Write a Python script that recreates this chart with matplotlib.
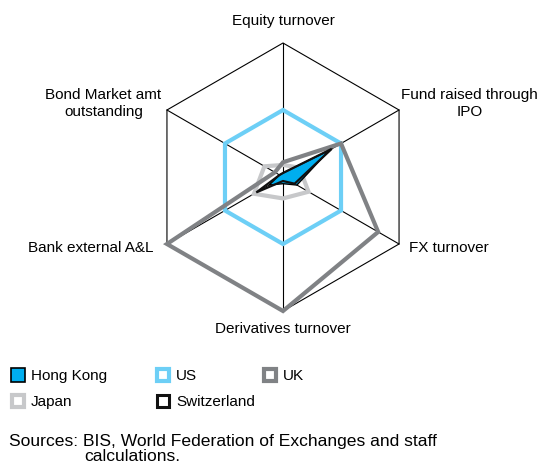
import numpy as np
import matplotlib.pyplot as plt
from matplotlib.patches import Polygon, Rectangle

plt.rcParams['font.family'] = ['Liberation Sans', 'DejaVu Sans']

# axes, clockwise from the top
axes_labels = ["Equity turnover", "Fund raised through\nIPO", "FX turnover",
               "Derivatives turnover", "Bank external A&L", "Bond Market amt\noutstanding"]

# index values (1.0 = outer ring)
hong_kong = [0.03, 0.40, 0.12, 0.05, 0.12, 0.03]
us = [0.50, 0.50, 0.50, 0.50, 0.50, 0.50]
uk = [0.11, 0.50, 0.82, 1.00, 1.00, 0.07]
japan = [0.09, 0.14, 0.22, 0.16, 0.25, 0.16]
switzerland = [0.03, 0.42, 0.10, 0.03, 0.23, 0.03]

source_lines = ["Sources: BIS, World Federation of Exchanges and staff", "calculations."]

c_hk = "#00aeef"
c_us = "#6dcff6"
c_uk = "#808285"
c_jp = "#c7c8ca"
c_ch = "#111111"

angles = np.arange(len(axes_labels)) * 2 * np.pi / len(axes_labels)


def to_xy(vals):
    vals = np.asarray(vals, dtype=float)
    return np.column_stack([vals * np.sin(angles), vals * np.cos(angles)])


def px(x, y):
    # pixel position of the reference -> data units (radius 1 = 134 px)
    return (x - 283) / 134, (177 - y) / 134


fig = plt.figure(figsize=(5.38, 4.65), dpi=100)
ax = fig.add_axes([0, 0, 1, 1])
ax.set_xlim(-283 / 134, (538 - 283) / 134)
ax.set_ylim((177 - 465) / 134, 177 / 134)
ax.axis('off')

# frame: outer hexagon and spokes
outer = to_xy(np.ones(6))
ax.add_patch(Polygon(outer, closed=True, fill=False, ec="black", lw=0.8, zorder=1))
for x, y in outer:
    ax.plot([0, x], [0, y], color="black", lw=0.8, zorder=1)

ax.add_patch(Polygon(to_xy(us), closed=True, fill=False, ec=c_us, lw=3, joinstyle='miter', zorder=2))
ax.add_patch(Polygon(to_xy(japan), closed=True, fill=False, ec=c_jp, lw=3, joinstyle='miter', zorder=3))
ax.add_patch(Polygon(to_xy(uk), closed=True, fill=False, ec=c_uk, lw=3, joinstyle='miter', zorder=4))
ax.add_patch(Polygon(to_xy(hong_kong), closed=True, fc=c_hk, ec="black", lw=1, zorder=5))
ax.add_patch(Polygon(to_xy(switzerland), closed=True, fill=False, ec=c_ch, lw=1.6, zorder=6))

# axis labels
fs = 11
ax.text(0, 1.0 + 0.11, axes_labels[0], ha='center', va='bottom', fontsize=fs)
ax.text(1.39, 0.55, axes_labels[1], ha='center', va='center', fontsize=fs, linespacing=1.3)
ax.text(0.94, -0.53, axes_labels[2], ha='left', va='center', fontsize=fs)
ax.text(0, -1.08, axes_labels[3], ha='center', va='top', fontsize=fs)
ax.text(-0.97, -0.53, axes_labels[4], ha='right', va='center', fontsize=fs)
ax.text(-1.34, 0.55, axes_labels[5], ha='center', va='center', fontsize=fs, linespacing=1.3)

# legend
legend = [("Hong Kong", c_hk, "black", 1.2, 10, 375),
          ("US", "white", c_us, 3, 155, 375),
          ("UK", "white", c_uk, 3, 262, 375),
          ("Japan", "white", c_jp, 3, 10, 401),
          ("Switzerland", "white", c_ch, 2.2, 155, 401)]

for name, fc, ec, lw, lx, ly in legend:
    inner = 16 - lw * 100 / 72
    x0, y0 = px(lx + lw * 100 / 144, ly + inner / 2)
    ax.add_patch(Rectangle((x0, y0), inner / 134, inner / 134, fc=fc, ec=ec, lw=lw, joinstyle='miter'))
    tx, ty = px(lx + 21, ly + 1)
    ax.text(tx, ty, name, ha='left', va='center', fontsize=fs)

# sources note
sx, sy = px(9, 446)
ax.text(sx, sy, source_lines[0], ha='left', va='baseline', fontsize=12.6)
sx, sy = px(84, 461)
ax.text(sx, sy, source_lines[1], ha='left', va='baseline', fontsize=12.6)

fig.savefig("out.png", dpi=100)
